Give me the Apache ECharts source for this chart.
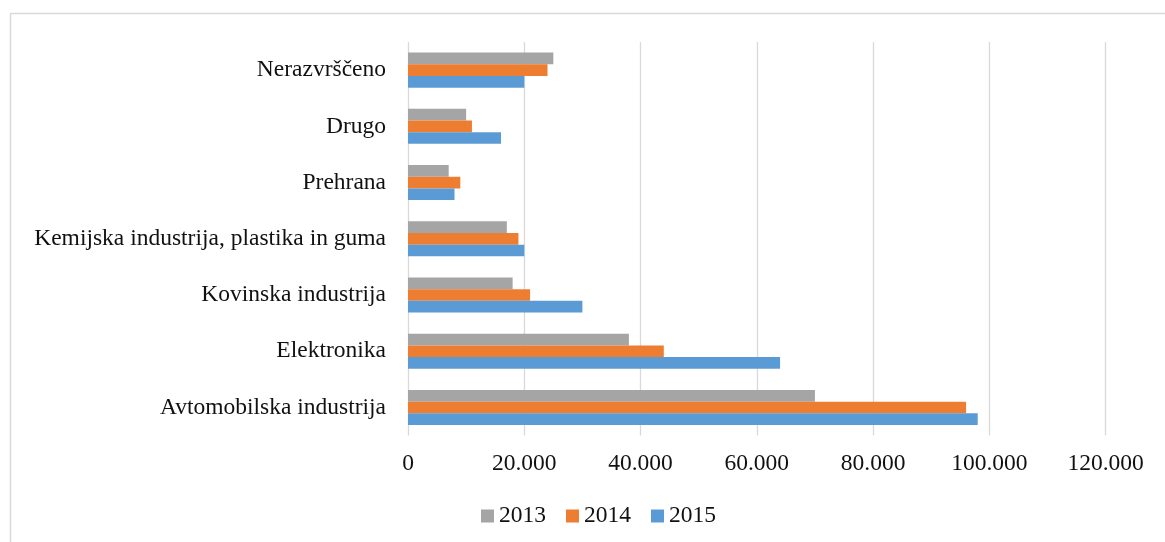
<!DOCTYPE html>
<html>
<head>
<meta charset="utf-8">
<script src="https://cdn.jsdelivr.net/npm/echarts@6/dist/echarts.min.js"></script>
<style>
  html, body { margin: 0; padding: 0; background: #fff; }
  #chart { width: 1165px; height: 542px; }
</style>
</head>
<body>
<div id="chart"></div>
<script>
// Industry categories, listed bottom to top as on the axis
const categories = [
  'Avtomobilska industrija',
  'Elektronika',
  'Kovinska industrija',
  'Kemijska industrija, plastika in guma',
  'Prehrana',
  'Drugo',
  'Nerazvrščeno'
];

const years = ['2013', '2014', '2015'];

const values2013 = [70000, 38000, 18000, 17000, 7000, 10000, 25000];
const values2014 = [96000, 44000, 21000, 19000, 9000, 11000, 24000];
const values2015 = [98000, 64000, 30000, 20000, 8000, 16000, 20000];

const axisMin = 0;
const axisMax = 120000;
const axisStep = 20000;

const colors = { '2013': '#a5a5a5', '2014': '#ed7d31', '2015': '#5b9bd5' };
const FONT = '"Liberation Serif", "Times New Roman", serif';

// 20000 -> "20.000"
function fmt(v) {
  return String(v).replace(/\B(?=(\d{3})+(?!\d))/g, '.');
}

const seriesData = { '2013': values2013, '2014': values2014, '2015': values2015 };

const chart = echarts.init(document.getElementById('chart'), null, { renderer: 'canvas' });

chart.setOption({
  backgroundColor: '#ffffff',
  animation: false,
  textStyle: { fontFamily: FONT },
  graphic: [{
    type: 'rect',
    shape: { x: 10.5, y: 13.5, width: 1200, height: 600 },
    style: { fill: 'none', stroke: '#d9d9d9', lineWidth: 1.5 },
    silent: true
  }],
  grid: { left: 408, right: 59.4, top: 42, bottom: 106.4, containLabel: false },
  legend: {
    data: years,
    left: 481,
    top: 504,
    padding: 0,
    itemWidth: 13,
    itemHeight: 13,
    itemGap: 20,
    icon: 'rect',
    textStyle: { fontFamily: FONT, fontSize: 23.5, color: '#111' }
  },
  xAxis: {
    type: 'value',
    min: axisMin,
    max: axisMax,
    interval: axisStep,
    axisLine: { show: false },
    axisTick: { show: false },
    splitLine: { show: true, lineStyle: { color: '#d9d9d9', width: 1.3 } },
    axisLabel: {
      formatter: fmt,
      margin: 16,
      fontFamily: FONT,
      fontSize: 23.5,
      color: '#111'
    }
  },
  yAxis: {
    type: 'category',
    data: categories,
    axisLine: { show: false },
    axisTick: { show: false },
    axisLabel: { margin: 22, fontFamily: FONT, fontSize: 23.5, color: '#111' }
  },
  series: years.map(y => ({
    name: y,
    type: 'bar',
    data: seriesData[y],
    barGap: '0%',
    barCategoryGap: '37.7%',
    itemStyle: { color: colors[y] }
  }))
});
</script>
</body>
</html>
